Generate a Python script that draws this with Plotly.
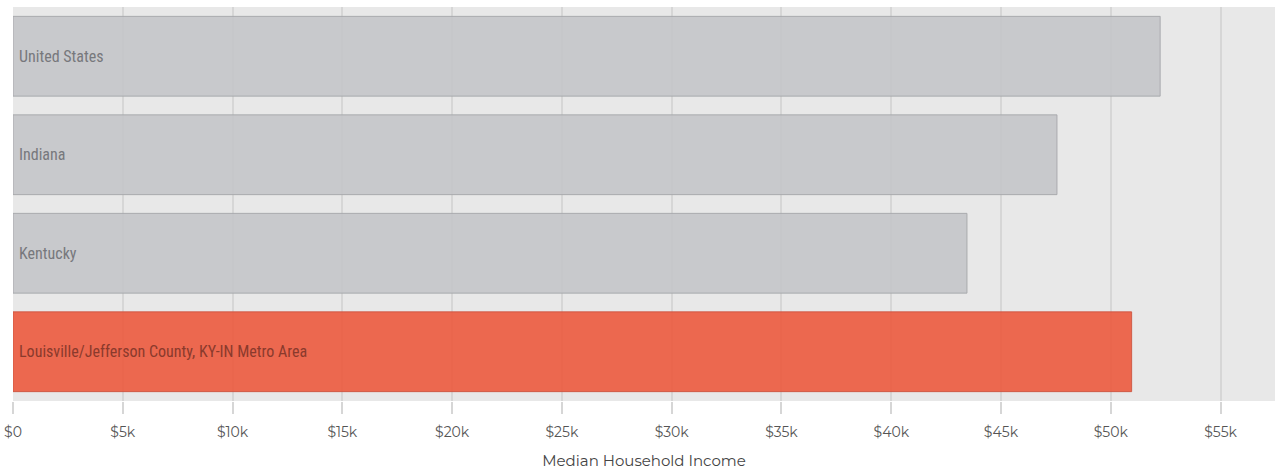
import plotly.graph_objects as go

categories = ["United States", "Indiana", "Kentucky", "Louisville/Jefferson County, KY-IN Metro Area"]
income = [52250, 47550, 43450, 50950]
highlight = [False, False, False, True]
tick_vals = [0, 5000, 10000, 15000, 20000, 25000, 30000, 35000, 40000, 45000, 50000, 55000]
tick_text = ["$0", "$5k", "$10k", "$15k", "$20k", "$25k", "$30k", "$35k", "$40k", "$45k", "$50k", "$55k"]

fill = ["rgba(236,90,62,0.9)" if h else "rgba(196,197,201,0.9)" for h in highlight]
border = ["rgba(205,85,65,0.9)" if h else "rgba(165,166,170,0.9)" for h in highlight]
label_col = ["#8a3a2c" if h else "#77787c" for h in highlight]

fig = go.Figure(go.Bar(
    x=income, y=categories, orientation="h",
    marker=dict(color=fill, line=dict(color=border, width=1)),
    width=0.81, hoverinfo="skip",
))

for c, col in zip(categories, label_col):
    fig.add_annotation(x=0, y=c, text=c, showarrow=False, xanchor="left", xshift=4,
                       font=dict(family="Liberation Sans Narrow, Roboto Condensed, DejaVu Sans Condensed", size=16, color=col))

fig.update_layout(
    width=1275, height=470,
    margin=dict(l=13, r=0, t=7, b=69),
    paper_bgcolor="white", plot_bgcolor="#e8e8e8",
    showlegend=False,
    bargap=0.19,
    xaxis=dict(range=[0, 57480], tickvals=tick_vals, ticktext=tick_text,
               showgrid=True, gridcolor="#d6d6d6", gridwidth=1.5,
               ticks="outside", ticklen=12, tickcolor="#d6d6d6", tickwidth=1.5,
               ticklabelstandoff=6,
               zeroline=False, showline=False,
               tickfont=dict(family="Montserrat, Lato, DejaVu Sans", size=14, color="#555"),
               title=dict(text="Median Household Income", standoff=16,
                          font=dict(family="Montserrat, Lato, DejaVu Sans", size=15, color="#444"))),
    yaxis=dict(categoryorder="array", categoryarray=categories, autorange="reversed",
               showticklabels=False, showgrid=False, zeroline=False),
)

fig.write_html("out.html")
